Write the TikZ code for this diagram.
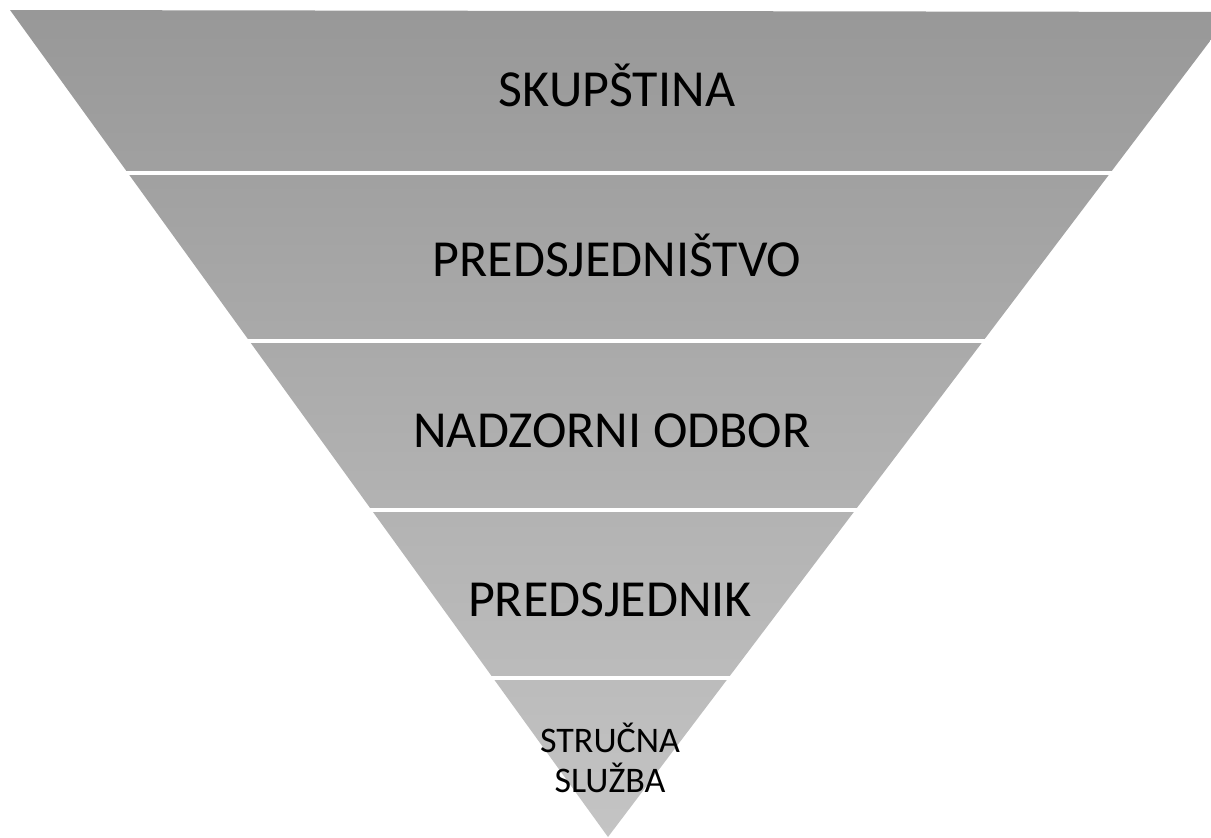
\documentclass[tikz,border=0pt]{standalone}
\usepackage{fontspec}
\setmainfont{Carlito}
\begin{document}
\begin{tikzpicture}[x=1pt,y=-1pt,
  lbl/.style={anchor=base,text=black,inner sep=0pt,font=\fontsize{52}{60}\selectfont},
  lblsmall/.style={anchor=base,text=black,inner sep=0pt,align=center,font=\fontsize{36}{40}\selectfont},
  sep/.style={white,line width=4pt}]
\useasboundingbox (0,0) rectangle (1211,838);
\begin{scope}
\clip (0,0) rectangle (1211,838);
\shade[top color={rgb,255:red,152;green,152;blue,152},bottom color={rgb,255:red,196;green,196;blue,196}]
  (10,10) -- (1232,12) -- (608,837) -- cycle;
\end{scope}
\coordinate (l1) at (0,173); \coordinate (r1) at (1211,173);
\coordinate (l2) at (0,341); \coordinate (r2) at (1211,341);
\coordinate (l3) at (0,510); \coordinate (r3) at (1211,510);
\coordinate (l4) at (0,678); \coordinate (r4) at (1211,678);
\draw[sep] (l1) -- (r1);
\draw[sep] (l2) -- (r2);
\draw[sep] (l3) -- (r3);
\draw[sep] (l4) -- (r4);
\node[lbl] (skup) at (617,106) {SKUPŠTINA};
\node[lbl] (pred) at (617,276) {PREDSJEDNIŠTVO};
\node[lbl] (nadz) at (612,447) {NADZORNI ODBOR};
\node[lbl] (pnik) at (610,616) {PREDSJEDNIK};
\node[lblsmall] (stru) at (610,792) {STRUČNA\\SLUŽBA};
\end{tikzpicture}
\end{document}
